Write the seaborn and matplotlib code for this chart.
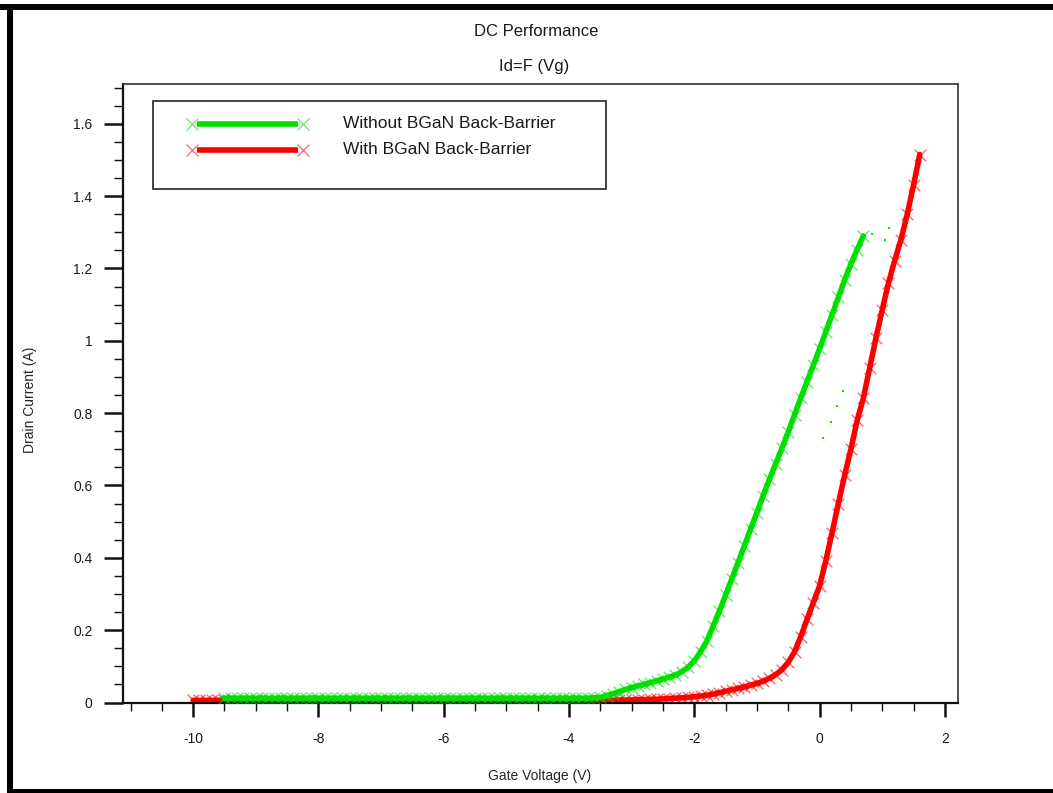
import matplotlib
matplotlib.use("Agg")
import matplotlib.pyplot as plt
from matplotlib.patches import Rectangle
from matplotlib.ticker import MultipleLocator, FuncFormatter
import seaborn as sns

# ---------------- data ----------------
series_names = ["Without BGaN Back-Barrier", "With BGaN Back-Barrier"]

vg_green = [-9.5, -9.4, -9.3, -9.2, -9.1, -9.0, -8.9, -8.8, -8.7, -8.6,
            -8.5, -8.4, -8.3, -8.2, -8.1, -8.0, -7.9, -7.8, -7.7, -7.6,
            -7.5, -7.4, -7.3, -7.2, -7.1, -7.0, -6.9, -6.8, -6.7, -6.6,
            -6.5, -6.4, -6.3, -6.2, -6.1, -6.0, -5.9, -5.8, -5.7, -5.6,
            -5.5, -5.4, -5.3, -5.2, -5.1, -5.0, -4.9, -4.8, -4.7, -4.6,
            -4.5, -4.4, -4.3, -4.2, -4.1, -4.0, -3.9, -3.8, -3.7, -3.6,
            -3.5, -3.4, -3.3, -3.2, -3.1, -3.0, -2.9, -2.8, -2.7, -2.6,
            -2.5, -2.4, -2.3, -2.2, -2.1, -2.0, -1.9, -1.8, -1.7, -1.6,
            -1.5, -1.4, -1.3, -1.2, -1.1, -1.0, -0.9, -0.8, -0.7, -0.6,
            -0.5, -0.4, -0.3, -0.2, -0.1, 0.0, 0.1, 0.2, 0.3, 0.4,
            0.5, 0.6, 0.7]
id_green = [0.012, 0.012, 0.012, 0.012, 0.012, 0.012, 0.012, 0.012, 0.012, 0.012,
            0.012, 0.012, 0.012, 0.012, 0.012, 0.012, 0.012, 0.012, 0.012, 0.012,
            0.012, 0.012, 0.012, 0.012, 0.012, 0.012, 0.012, 0.012, 0.012, 0.012,
            0.012, 0.012, 0.012, 0.012, 0.012, 0.012, 0.012, 0.012, 0.012, 0.012,
            0.012, 0.012, 0.012, 0.012, 0.012, 0.012, 0.012, 0.012, 0.012, 0.012,
            0.012, 0.012, 0.012, 0.012, 0.012, 0.012, 0.012, 0.012, 0.012, 0.013,
            0.014, 0.019, 0.024, 0.030, 0.036, 0.041, 0.046, 0.050, 0.055, 0.060,
            0.065, 0.070, 0.076, 0.085, 0.097, 0.115, 0.140, 0.170, 0.211, 0.252,
            0.297, 0.342, 0.387, 0.433, 0.480, 0.525, 0.572, 0.617, 0.660, 0.703,
            0.748, 0.795, 0.842, 0.887, 0.932, 0.978, 1.025, 1.072, 1.120, 1.168,
            1.212, 1.252, 1.290]

vg_red = [-10.0, -9.9, -9.8, -9.7, -9.6, -9.5, -9.0, -8.5, -8.0, -7.5,
          -7.0, -6.5, -6.0, -5.5, -5.0, -4.5, -4.0, -3.5, -3.4, -3.3,
          -3.2, -3.1, -3.0, -2.9, -2.8, -2.7, -2.6, -2.5, -2.4, -2.3,
          -2.2, -2.1, -2.0, -1.9, -1.8, -1.7, -1.6, -1.5, -1.4, -1.3,
          -1.2, -1.1, -1.0, -0.9, -0.8, -0.7, -0.6, -0.5, -0.4, -0.3,
          -0.2, -0.1, 0.0, 0.1, 0.2, 0.3, 0.4, 0.5, 0.6, 0.7,
          0.8, 0.9, 1.0, 1.1, 1.2, 1.3, 1.4, 1.5, 1.6]
id_red = [0.006, 0.006, 0.006, 0.006, 0.006, 0.006, 0.006, 0.006, 0.006, 0.006,
          0.006, 0.006, 0.006, 0.006, 0.006, 0.006, 0.006, 0.006, 0.006, 0.006,
          0.007, 0.007, 0.007, 0.008, 0.008, 0.009, 0.009, 0.010, 0.011, 0.012,
          0.013, 0.014, 0.016, 0.018, 0.020, 0.023, 0.027, 0.031, 0.035, 0.039,
          0.043, 0.048, 0.053, 0.059, 0.067, 0.077, 0.091, 0.111, 0.140, 0.182,
          0.230, 0.276, 0.322, 0.392, 0.470, 0.550, 0.628, 0.700, 0.780, 0.842,
          0.925, 1.008, 1.085, 1.160, 1.222, 1.280, 1.350, 1.430, 1.515]

# a few isolated green points visible beside the curves
vg_green_stray = [0.83, 1.11, 1.04, 0.38, 0.28, 0.18, 0.06]
id_green_stray = [1.295, 1.312, 1.279, 0.860, 0.819, 0.776, 0.731]

x_major_ticks = [-10, -8, -6, -4, -2, 0, 2]
y_major_ticks = [0, 0.2, 0.4, 0.6, 0.8, 1.0, 1.2, 1.4, 1.6]

# ---------------- style ----------------
GREEN = "#00E000"
RED = "#FF0000"
W, H = 1053, 793

sns.set_style("white")
plt.rcParams['font.family'] = ['Liberation Sans', 'DejaVu Sans']
plt.rcParams['text.color'] = '#1a1a1a'

fig = plt.figure(figsize=(W / 100, H / 100), dpi=100)
fig.patch.set_facecolor("white")

ax_left, ax_right, ax_top, ax_bottom = 123, 958, 84, 702.5
ax = fig.add_axes([ax_left / W, (H - ax_bottom) / H,
                   (ax_right - ax_left) / W, (ax_bottom - ax_top) / H])

# red series (drawn below green)
sns.lineplot(x=vg_red, y=id_red, color=RED, linewidth=4.0, sort=False,
             estimator=None, ax=ax, zorder=2)
sns.scatterplot(x=vg_red, y=id_red, marker="x", s=70, color=RED, alpha=0.6,
                linewidth=1.0, ax=ax, zorder=2.5)

# green series
sns.lineplot(x=vg_green, y=id_green, color=GREEN, linewidth=4.0, sort=False,
             estimator=None, ax=ax, zorder=3)
sns.scatterplot(x=vg_green, y=id_green, marker="x", s=70, color=GREEN, alpha=0.6,
                linewidth=1.0, ax=ax, zorder=3.5)
sns.scatterplot(x=vg_green_stray, y=id_green_stray, marker="s", s=3, color=GREEN,
                linewidth=0, ax=ax, zorder=3)

ax.set_xlim(-11.12, 2.21)
ax.set_ylim(0, 1.71)
ax.set_xticks(x_major_ticks)
ax.set_yticks(y_major_ticks)
ax.xaxis.set_minor_locator(MultipleLocator(0.5))
ax.yaxis.set_minor_locator(MultipleLocator(0.05))
ax.yaxis.set_major_formatter(FuncFormatter(lambda v, p: f"{v:g}"))
ax.xaxis.set_major_formatter(FuncFormatter(lambda v, p: f"{v:g}"))

ax.tick_params(axis="x", which="both", bottom=True, top=False, direction="out",
               color="#111111")
ax.tick_params(axis="y", which="both", left=True, right=False, direction="out",
               color="#111111")
ax.tick_params(axis="x", which="major", length=10, width=1.8,
               pad=11, labelsize=10, labelcolor="#1a1a1a")
ax.tick_params(axis="x", which="minor", length=5.5, width=1.0)
ax.tick_params(axis="y", which="major", length=14, width=1.8,
               pad=8, labelsize=10, labelcolor="#1a1a1a")
ax.tick_params(axis="y", which="minor", length=6.5, width=1.0)

for side, sp in ax.spines.items():
    sp.set_visible(True)
    sp.set_color("#333333")
    sp.set_linewidth(1.2)
ax.spines["left"].set_linewidth(1.6)
ax.spines["bottom"].set_linewidth(1.6)
ax.spines["left"].set_color("#111111")
ax.spines["bottom"].set_color("#111111")
ax.set_facecolor("white")

ax.set_xlabel("Gate Voltage (V)", fontsize=10)
ax.set_ylabel("Drain Current (A)", fontsize=10)
ax.xaxis.label.set_va("center")
ax.yaxis.label.set_va("center")
axw, axh = ax_right - ax_left, ax_bottom - ax_top
ax.xaxis.set_label_coords((540 - ax_left) / axw, (ax_bottom - 776) / axh)
ax.yaxis.set_label_coords((30 - ax_left) / axw, (ax_bottom - 400) / axh)

# titles
fig.text(536 / W, 1 - 32 / H, "DC Performance", ha="center", va="center", fontsize=12)
fig.text(534 / W, 1 - 66 / H, "Id=F (Vg)", ha="center", va="center", fontsize=12)

# legend (box and entries in axes coordinates)
def axx(px):
    return (px - ax_left) / axw

def axy(py):
    return (ax_bottom - py) / axh

ax.add_patch(Rectangle((axx(153), axy(189)), axx(606) - axx(153), axy(101) - axy(189),
                       transform=ax.transAxes, facecolor="white", edgecolor="#222222",
                       linewidth=1.2, zorder=5))
for name, col, py in [(series_names[0], GREEN, 124), (series_names[1], RED, 150)]:
    ax.plot([axx(197), axx(298)], [axy(py), axy(py)], color=col, linewidth=4.0,
            transform=ax.transAxes, zorder=6, solid_capstyle="butt")
    ax.plot([axx(192), axx(303)], [axy(py), axy(py)], linestyle="none", marker="x",
            markersize=8, markeredgewidth=0.9, color=col, alpha=0.6,
            transform=ax.transAxes, zorder=6)
    ax.text(axx(343), axy(py), name, transform=ax.transAxes, ha="left", va="center",
            fontsize=12.5, zorder=6)

# outer frame of the window
fig.patches.append(Rectangle((0, (H - 10) / H), 1, 6 / H, transform=fig.transFigure,
                             facecolor="black", edgecolor="none", zorder=10))
fig.patches.append(Rectangle((7 / W, 0), 6 / W, (H - 4) / H, transform=fig.transFigure,
                             facecolor="black", edgecolor="none", zorder=10))
fig.patches.append(Rectangle((7 / W, 0), 1 - 7 / W, 4 / H, transform=fig.transFigure,
                             facecolor="black", edgecolor="none", zorder=10))

fig.savefig("out.png", dpi=100)
